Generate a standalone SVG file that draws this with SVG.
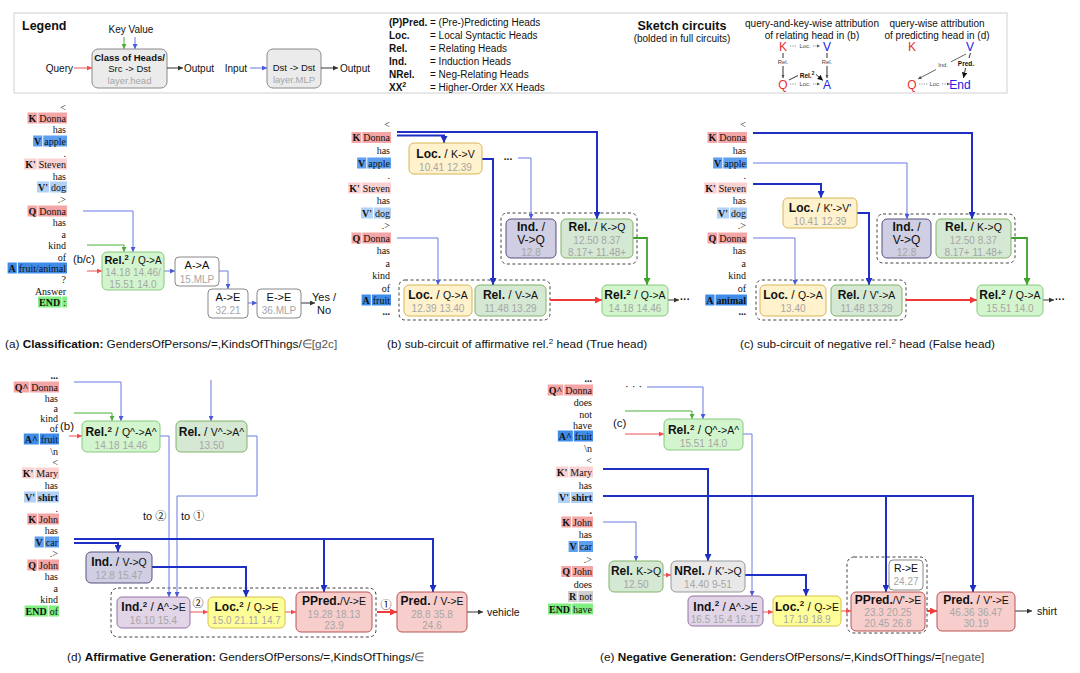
<svg xmlns="http://www.w3.org/2000/svg" width="1080" height="673" viewBox="0 0 1080 673">
<style>
text{font-family:"Liberation Sans",Arial,sans-serif;fill:#111}
.tk{font-family:"Liberation Serif","Times New Roman",serif;font-size:10px;text-anchor:end}
.tkb{font-weight:bold}
.t{font-size:12px;text-anchor:middle}
.ta{font-size:11px;text-anchor:middle}
.b{font-weight:bold}
.s{font-size:10.5px}
.n{font-size:10px;text-anchor:middle;fill:#a6a6a6}
.gy{fill:#a6a6a6}
.cap{font-size:11.8px}
.lg{font-size:10px}
.sk{font-size:12px;text-anchor:middle}
.sl{font-size:5.8px;text-anchor:middle;fill:#444}
.cj{font-family:"Liberation Sans","Noto Sans CJK JP",sans-serif}
.rel2{fill:#d3f5cd;stroke:#86c97e}
.rel{fill:#d5e8d4;stroke:#82b366}
.loc{fill:#fff2cc;stroke:#d6b656}
.loc2{fill:#ffff99;stroke:#d6c24a}
.ind{fill:#d0cee2;stroke:#56517e}
.ind2{fill:#e1d5e7;stroke:#9673a6}
.pred{fill:#f8cecc;stroke:#b85450}
.nrel{fill:#e8e8e8;stroke:#999}
.mlp{fill:#fff;stroke:#888}
.grp{fill:none;stroke:#444;stroke-dasharray:3 2.5}
#connectors path{fill:none}
.bk{stroke:#1f2fc4;stroke-width:2}
.bt{stroke:#6a78e2;stroke-width:1}
.gr{stroke:#3fa02e;stroke-width:1.8}
.grt{stroke:#4caf3a;stroke-width:1}
.rd{stroke:#f03a3a;stroke-width:2}
.rdt{stroke:#f05050;stroke-width:1}
.bl{stroke:#333;stroke-width:1}
.dt{stroke:#777;stroke-width:0.8;stroke-dasharray:1.2 1.2}
.kb{fill:#f4a6a6}.k2b{fill:#fbd2d2}.vb{fill:#5e9ff0}.v2b{fill:#b2d1f7}.ab{fill:#3f8ce8}.eb{fill:#80ee80}.rb{fill:#cfcfcf}
</style>
<defs>
<marker id="mbk" viewBox="0 0 10 10" refX="10" refY="5" markerWidth="7" markerHeight="7" markerUnits="userSpaceOnUse" orient="auto"><path d="M0,0 L10,5 L0,10 z" fill="#1f2fc4"/></marker>
<marker id="mbt" viewBox="0 0 10 10" refX="10" refY="5" markerWidth="5" markerHeight="5" markerUnits="userSpaceOnUse" orient="auto"><path d="M0,0 L10,5 L0,10 z" fill="#4a5ad8"/></marker>
<marker id="mgr" viewBox="0 0 10 10" refX="10" refY="5" markerWidth="7" markerHeight="7" markerUnits="userSpaceOnUse" orient="auto"><path d="M0,0 L10,5 L0,10 z" fill="#3fa02e"/></marker>
<marker id="mgrt" viewBox="0 0 10 10" refX="10" refY="5" markerWidth="5" markerHeight="5" markerUnits="userSpaceOnUse" orient="auto"><path d="M0,0 L10,5 L0,10 z" fill="#4caf3a"/></marker>
<marker id="mrd" viewBox="0 0 10 10" refX="10" refY="5" markerWidth="7" markerHeight="7" markerUnits="userSpaceOnUse" orient="auto"><path d="M0,0 L10,5 L0,10 z" fill="#f03a3a"/></marker>
<marker id="mrdt" viewBox="0 0 10 10" refX="10" refY="5" markerWidth="5" markerHeight="5" markerUnits="userSpaceOnUse" orient="auto"><path d="M0,0 L10,5 L0,10 z" fill="#f05050"/></marker>
<marker id="mbl" viewBox="0 0 10 10" refX="10" refY="5" markerWidth="5" markerHeight="5" markerUnits="userSpaceOnUse" orient="auto"><path d="M0,0 L10,5 L0,10 z" fill="#333"/></marker>
<marker id="mgy" viewBox="0 0 10 10" refX="10" refY="5" markerWidth="3.5" markerHeight="3.5" markerUnits="userSpaceOnUse" orient="auto"><path d="M0,0 L10,5 L0,10 z" fill="#555"/></marker>
<marker id="mbb" viewBox="0 0 10 10" refX="10" refY="5" markerWidth="5.5" markerHeight="5.5" markerUnits="userSpaceOnUse" orient="auto"><path d="M0,0 L10,5 L0,10 z" fill="#111"/></marker>
</defs>
<rect width="1080" height="673" fill="#fff"/>

<!-- LEGEND -->
<g id="legend">
<rect x="14" y="13" width="993" height="80" fill="#fff" stroke="#d0d0d0"/>
<text x="22" y="29.5" font-size="12.5" font-weight="bold">Legend</text>
<text x="131" y="32.5" class="lg" text-anchor="middle">Key Value</text>
<text x="73" y="71.5" class="lg" text-anchor="end">Query</text>
<g id="lg-class"><rect x="92" y="49" width="75" height="39" rx="6" fill="#ebebeb" stroke="#8a8a8a"/>
<text x="129.5" y="60.5" font-size="9.5" font-weight="bold" text-anchor="middle">Class of Heads/</text>
<text x="129.5" y="72" font-size="9.5" text-anchor="middle">Src -&gt; Dst</text>
<text x="129.5" y="83.5" font-size="9.5" text-anchor="middle" class="gy">layer.head</text></g>
<text x="184" y="71.5" class="lg">Output</text>
<text x="247" y="71.5" class="lg" text-anchor="end">Input</text>
<g id="lg-mlp"><rect x="267" y="49" width="54" height="39" rx="6" fill="#ebebeb" stroke="#8a8a8a"/>
<text x="294" y="71" font-size="9.5" text-anchor="middle">Dst -&gt; Dst</text>
<text x="294" y="82.5" font-size="9.5" text-anchor="middle" class="gy">layer.MLP</text></g>
<text x="340" y="71.5" class="lg">Output</text>
<g class="lg">
<text x="389" y="25.5"><tspan font-weight="bold">(P)Pred.</tspan></text><text x="430" y="25.5">= (Pre-)Predicting Heads</text>
<text x="389" y="38.5" font-weight="bold">Loc.</text><text x="430" y="38.5">= Local Syntactic Heads</text>
<text x="389" y="51.5" font-weight="bold">Rel.</text><text x="430" y="51.5">= Relating Heads</text>
<text x="389" y="64.5" font-weight="bold">Ind.</text><text x="430" y="64.5">= Induction Heads</text>
<text x="389" y="77.5" font-weight="bold">NRel.</text><text x="430" y="77.5">= Neg-Relating Heads</text>
<text x="389" y="90.5" font-weight="bold">XX<tspan font-size="7" dy="-4">2</tspan></text><text x="430" y="90.5">= Higher-Order XX Heads</text>
</g>
<text x="682" y="29.5" font-size="12.5" font-weight="bold" text-anchor="middle">Sketch circuits</text>
<text x="682" y="41.5" class="lg" text-anchor="middle">(bolded in full circuits)</text>
<text x="812" y="27" class="lg" text-anchor="middle">query-and-key-wise attribution</text>
<text x="812" y="38.5" class="lg" text-anchor="middle">of relating head in (b)</text>
<text x="937" y="27" class="lg" text-anchor="middle">query-wise attribution</text>
<text x="937" y="38.5" class="lg" text-anchor="middle">of predicting head in (d)</text>
<g id="sketch1">
<text x="783" y="50.5" class="sk" style="fill:#e83030">K</text>
<text x="827" y="50.5" class="sk" style="fill:#2020e8">V</text>
<text x="783" y="88.5" class="sk" style="fill:#e83030">Q</text>
<text x="827" y="88.5" class="sk" style="fill:#2020e8">A</text>
<text x="805" y="48" class="sl">Loc.</text>
<text x="805" y="86" class="sl">Loc.</text>
<text x="783" y="64" class="sl">Rel.</text>
<text x="827" y="64" class="sl">Rel.</text>
<text x="807" y="77.5" font-size="6.5" font-weight="bold" text-anchor="middle">Rel.<tspan font-size="4.8" dy="-2.5">2</tspan></text>
</g>
<g id="sketch2">
<text x="912" y="50.5" class="sk" style="fill:#e83030">K</text>
<text x="970" y="50.5" class="sk" style="fill:#2020e8">V</text>
<text x="912" y="88.5" class="sk" style="fill:#e83030">Q</text>
<text x="960" y="88.5" class="sk" style="fill:#2020e8">End</text>
<text x="943" y="66.5" class="sl">Ind.</text>
<text x="966" y="65.5" font-size="6.5" font-weight="bold" text-anchor="middle">Pred.</text>
<text x="935" y="86" class="sl">Loc.</text>
</g>
</g>

<!-- TOKENS -->
<g id="tokens-a">
<text class="tk" x="66" y="110.5">&lt;</text>
<rect class="kb" x="27.5" y="112.5" width="9.8" height="11"/><text class="tk tkb" x="36.3" y="121.5">K</text>
<rect class="kb" x="38.3" y="112.5" width="28.7" height="11"/><text class="tk" x="66" y="121.5">Donna</text>
<text class="tk" x="66" y="132.5">has</text>
<rect class="vb" x="33.1" y="135.5" width="9.2" height="11"/><text class="tk tkb" x="41.3" y="144.5">V</text>
<rect class="vb" x="43.3" y="135.5" width="23.7" height="11"/><text class="tk" x="66" y="144.5">apple</text>
<text class="tk" x="66" y="156.5">.</text>
<rect class="k2b" x="24.2" y="158.5" width="12.6" height="11"/><text class="tk tkb" x="35.8" y="167.5">K'</text>
<rect class="k2b" x="37.8" y="158.5" width="29.2" height="11"/><text class="tk" x="66" y="167.5">Steven</text>
<text class="tk" x="66" y="179.5">has</text>
<rect class="v2b" x="37" y="181.5" width="12" height="11"/><text class="tk tkb" x="48" y="190.5">V'</text>
<rect class="v2b" x="50" y="181.5" width="17" height="11"/><text class="tk" x="66" y="190.5">dog</text>
<text class="tk" x="66" y="202.5">.&gt;</text>
<rect class="kb" x="27.5" y="205.5" width="9.8" height="11"/><text class="tk tkb" x="36.3" y="214.5">Q</text>
<rect class="kb" x="38.3" y="205.5" width="28.7" height="11"/><text class="tk" x="66" y="214.5">Donna</text>
<text class="tk" x="66" y="225.5">has</text>
<text class="tk" x="66" y="237.5">a</text>
<text class="tk" x="66" y="248.5">kind</text>
<text class="tk" x="66" y="260.5">of</text>
<rect class="ab" x="7.6" y="262.5" width="9.2" height="11"/><text class="tk tkb" x="15.8" y="271.5">A</text>
<rect class="ab" x="17.8" y="262.5" width="49.2" height="11"/><text class="tk" x="66" y="271.5">fruit/animal</text>
<text class="tk" x="66" y="282.5">?</text>
<text class="tk" x="66" y="294.5">Answer</text>
<rect class="eb" x="38.1" y="296.5" width="23.1" height="11"/><text class="tk tkb" x="60.2" y="305.5">END</text>
<rect class="eb" x="62.2" y="296.5" width="4.8" height="11"/><text class="tk" x="66" y="305.5">:</text>
</g>

<g id="tokens-b">
<text class="tk" x="390" y="127.5">&lt;</text>
<rect class="kb" x="351.5" y="132" width="9.8" height="11"/><text class="tk tkb" x="360.3" y="141">K</text>
<rect class="kb" x="362.3" y="132" width="28.7" height="11"/><text class="tk" x="390" y="141">Donna</text>
<text class="tk" x="390" y="153.5">has</text>
<rect class="vb" x="357.1" y="157.5" width="9.2" height="11"/><text class="tk tkb" x="365.3" y="166.5">V</text>
<rect class="vb" x="367.3" y="157.5" width="23.7" height="11"/><text class="tk" x="390" y="166.5">apple</text>
<text class="tk" x="390" y="178.5">.</text>
<rect class="k2b" x="348.2" y="182.5" width="12.6" height="11"/><text class="tk tkb" x="359.8" y="191.5">K'</text>
<rect class="k2b" x="361.8" y="182.5" width="29.2" height="11"/><text class="tk" x="390" y="191.5">Steven</text>
<text class="tk" x="390" y="203.5">has</text>
<rect class="v2b" x="361" y="207.5" width="12" height="11"/><text class="tk tkb" x="372" y="216.5">V'</text>
<rect class="v2b" x="374" y="207.5" width="17" height="11"/><text class="tk" x="390" y="216.5">dog</text>
<text class="tk" x="390" y="228.5">.&gt;</text>
<rect class="kb" x="351.5" y="232.5" width="9.8" height="11"/><text class="tk tkb" x="360.3" y="241.5">Q</text>
<rect class="kb" x="362.3" y="232.5" width="28.7" height="11"/><text class="tk" x="390" y="241.5">Donna</text>
<text class="tk" x="390" y="253.5">has</text>
<text class="tk" x="390" y="266.5">a</text>
<text class="tk" x="390" y="278.5">kind</text>
<text class="tk" x="390" y="291.5">of</text>
<rect class="ab" x="361.6" y="294.5" width="9.2" height="11"/><text class="tk tkb" x="369.8" y="303.5">A</text>
<rect class="ab" x="371.8" y="294.5" width="19.2" height="11"/><text class="tk" x="390" y="303.5">fruit</text>
<text class="tk tkb" x="390" y="315">...</text>
</g>

<g id="tokens-c">
<text class="tk" x="746" y="127.5">&lt;</text>
<rect class="kb" x="707.5" y="132" width="9.8" height="11"/><text class="tk tkb" x="716.3" y="141">K</text>
<rect class="kb" x="718.3" y="132" width="28.7" height="11"/><text class="tk" x="746" y="141">Donna</text>
<text class="tk" x="746" y="153.5">has</text>
<rect class="vb" x="713.1" y="157.5" width="9.2" height="11"/><text class="tk tkb" x="721.3" y="166.5">V</text>
<rect class="vb" x="723.3" y="157.5" width="23.7" height="11"/><text class="tk" x="746" y="166.5">apple</text>
<text class="tk" x="746" y="178.5">.</text>
<rect class="k2b" x="704.2" y="182.5" width="12.6" height="11"/><text class="tk tkb" x="715.8" y="191.5">K'</text>
<rect class="k2b" x="717.8" y="182.5" width="29.2" height="11"/><text class="tk" x="746" y="191.5">Steven</text>
<text class="tk" x="746" y="203.5">has</text>
<rect class="v2b" x="717" y="207.5" width="12" height="11"/><text class="tk tkb" x="728" y="216.5">V'</text>
<rect class="v2b" x="730" y="207.5" width="17" height="11"/><text class="tk" x="746" y="216.5">dog</text>
<text class="tk" x="746" y="228.5">.&gt;</text>
<rect class="kb" x="707.5" y="232.5" width="9.8" height="11"/><text class="tk tkb" x="716.3" y="241.5">Q</text>
<rect class="kb" x="718.3" y="232.5" width="28.7" height="11"/><text class="tk" x="746" y="241.5">Donna</text>
<text class="tk" x="746" y="253.5">has</text>
<text class="tk" x="746" y="266.5">a</text>
<text class="tk" x="746" y="278.5">kind</text>
<text class="tk" x="746" y="291.5">of</text>
<rect class="ab" x="705.3" y="294.5" width="9.2" height="11"/><text class="tk tkb" x="713.5" y="303.5">A</text>
<rect class="ab" x="715.5" y="294.5" width="31.5" height="11"/><text class="tk tkb" x="746" y="303.5">animal</text>
<text class="tk tkb" x="746" y="315">...</text>
</g>

<g id="tokens-d">
<text class="tk tkb" x="58" y="379">...</text>
<rect class="kb" x="13.7" y="381.5" width="15.6" height="11"/><text class="tk tkb" x="28.3" y="390.5">Q^</text>
<rect class="kb" x="30.3" y="381.5" width="28.7" height="11"/><text class="tk" x="58" y="390.5">Donna</text>
<text class="tk" x="58" y="401.5">has</text>
<text class="tk" x="58" y="411.5">a</text>
<text class="tk" x="58" y="421.5">kind</text>
<text class="tk" x="58" y="431.5">of</text>
<rect class="ab" x="23.8" y="433.5" width="15" height="11"/><text class="tk tkb" x="37.8" y="442.5">A^</text>
<rect class="ab" x="39.8" y="433.5" width="19.2" height="11"/><text class="tk" x="58" y="442.5">fruit</text>
<text class="tk" x="58" y="454.5">\n</text>
<text class="tk" x="58" y="465.5">&lt;</text>
<rect class="k2b" x="21.7" y="467.5" width="12.6" height="11"/><text class="tk tkb" x="33.3" y="476.5">K'</text>
<rect class="k2b" x="35.3" y="467.5" width="23.7" height="11"/><text class="tk" x="58" y="476.5">Mary</text>
<text class="tk" x="58" y="488.5">has</text>
<rect class="v2b" x="24" y="491.5" width="12" height="11"/><text class="tk tkb" x="35" y="500.5">V'</text>
<rect class="v2b" x="37" y="491.5" width="22" height="11"/><text class="tk tkb" x="58" y="500.5">shirt</text>
<text class="tk" x="58" y="511.5">.</text>
<rect class="kb" x="27.3" y="513.5" width="9.8" height="11"/><text class="tk tkb" x="36.1" y="522.5">K</text>
<rect class="kb" x="38.1" y="513.5" width="20.9" height="11"/><text class="tk" x="58" y="522.5">John</text>
<text class="tk" x="58" y="533.5">has</text>
<rect class="vb" x="34.6" y="536.5" width="9.2" height="11"/><text class="tk tkb" x="42.8" y="545.5">V</text>
<rect class="vb" x="44.8" y="536.5" width="14.2" height="11"/><text class="tk" x="58" y="545.5">car</text>
<text class="tk" x="58" y="556.5">.&gt;</text>
<rect class="kb" x="27.3" y="559.5" width="9.8" height="11"/><text class="tk tkb" x="36.1" y="568.5">Q</text>
<rect class="kb" x="38.1" y="559.5" width="20.9" height="11"/><text class="tk" x="58" y="568.5">John</text>
<text class="tk" x="58" y="579.5">has</text>
<text class="tk" x="58" y="591.5">a</text>
<text class="tk" x="58" y="602.5">kind</text>
<rect class="eb" x="24.6" y="605.5" width="23.1" height="11"/><text class="tk tkb" x="46.7" y="614.5">END</text>
<rect class="eb" x="48.7" y="605.5" width="10.3" height="11"/><text class="tk" x="58" y="614.5">of</text>
</g>

<g id="tokens-e">
<text class="tk tkb" x="592" y="382">...</text>
<rect class="kb" x="547.7" y="384.5" width="15.6" height="11"/><text class="tk tkb" x="562.3" y="393.5">Q^</text>
<rect class="kb" x="564.3" y="384.5" width="28.7" height="11"/><text class="tk" x="592" y="393.5">Donna</text>
<text class="tk" x="592" y="405.5">does</text>
<text class="tk" x="592" y="417.5">not</text>
<text class="tk" x="592" y="428.5">have</text>
<rect class="ab" x="557.8" y="430.5" width="15" height="11"/><text class="tk tkb" x="571.8" y="439.5">A^</text>
<rect class="ab" x="573.8" y="430.5" width="19.2" height="11"/><text class="tk" x="592" y="439.5">fruit</text>
<text class="tk" x="592" y="451.5">\n</text>
<text class="tk" x="592" y="463.5">&lt;</text>
<rect class="k2b" x="555.7" y="466.5" width="12.6" height="11"/><text class="tk tkb" x="567.3" y="475.5">K'</text>
<rect class="k2b" x="569.3" y="466.5" width="23.7" height="11"/><text class="tk" x="592" y="475.5">Mary</text>
<text class="tk" x="592" y="488.5">has</text>
<rect class="v2b" x="558" y="492" width="12" height="11"/><text class="tk tkb" x="569" y="501">V'</text>
<rect class="v2b" x="571" y="492" width="22" height="11"/><text class="tk tkb" x="592" y="501">shirt</text>
<text class="tk tkb" x="592" y="513.5">.</text>
<rect class="kb" x="561.3" y="516.5" width="9.8" height="11"/><text class="tk tkb" x="570.1" y="525.5">K</text>
<rect class="kb" x="572.1" y="516.5" width="20.9" height="11"/><text class="tk" x="592" y="525.5">John</text>
<text class="tk" x="592" y="537.5">has</text>
<rect class="vb" x="568.6" y="541" width="9.2" height="11"/><text class="tk tkb" x="576.8" y="550">V</text>
<rect class="vb" x="578.8" y="541" width="14.2" height="11"/><text class="tk" x="592" y="550">car</text>
<text class="tk" x="592" y="562.5">.&gt;</text>
<rect class="kb" x="561.3" y="566" width="9.8" height="11"/><text class="tk tkb" x="570.1" y="575">Q</text>
<rect class="kb" x="572.1" y="566" width="20.9" height="11"/><text class="tk" x="592" y="575">John</text>
<text class="tk" x="592" y="587.5">does</text>
<rect class="rb" x="568" y="591" width="9.2" height="11"/><text class="tk tkb" x="576.2" y="600">R</text>
<rect class="rb" x="578.2" y="591" width="14.8" height="11"/><text class="tk" x="592" y="600">not</text>
<rect class="eb" x="548" y="603.5" width="23.1" height="11"/><text class="tk tkb" x="570.1" y="612.5">END</text>
<rect class="eb" x="572.1" y="603.5" width="20.9" height="11"/><text class="tk" x="592" y="612.5">have</text>
</g>

<!-- GROUP FRAMES -->
<g id="groups">
<rect class="grp" x="501" y="213" width="136" height="51" rx="6"/>
<rect class="grp" x="399" y="280" width="151" height="40" rx="6"/>
<rect class="grp" x="877" y="214" width="138" height="49" rx="6"/>
<rect class="grp" x="756" y="280" width="150" height="40" rx="6"/>
<rect class="grp" x="111" y="588" width="265" height="49" rx="7"/>
<rect class="grp" x="847" y="557" width="80" height="76" rx="7"/>
</g>

<!-- CONNECTORS -->
<g id="connectors">
<path class="dt" d="M790,46 H797"/><path class="dt" d="M813,46 H820" marker-end="url(#mgy)"/>
<path class="dt" d="M790,84 H797"/><path class="dt" d="M813,84 H820" marker-end="url(#mgy)"/>
<path class="bl" d="M783,53 V58" stroke-width="0.7"/><path class="bl" d="M783,66 V78" stroke-width="0.7" marker-end="url(#mgy)"/>
<path class="bl" d="M827,53 V58" stroke-width="0.7"/><path class="bl" d="M827,66 V78" stroke-width="0.7" marker-end="url(#mgy)"/>
<path class="bl" d="M789,80 L798,75.5" stroke-width="1.3"/><path class="bl" d="M816,74.5 L823,80.5" stroke-width="1.3" marker-end="url(#mbb)"/>
<path class="bl" d="M966,54 L951,61.8" stroke-width="0.6" style="stroke:#666"/><path class="bl" d="M936,69.6 L918,79" stroke-width="0.6" style="stroke:#666" marker-end="url(#mgy)"/>
<path class="bl" d="M970.5,53 L969,58" stroke-width="1.3"/><path class="bl" d="M965.5,68 L963.5,78" stroke-width="1.3" marker-end="url(#mbb)"/>
<path class="dt" d="M919,84 H928"/><path class="dt" d="M942,84 H950" marker-end="url(#mgy)"/>
<path class="rdt" d="M74,68 H92" marker-end="url(#mrdt)"/>
<path class="grt" d="M124,37 V49" marker-end="url(#mgrt)"/>
<path class="bt" d="M135,37 V49" marker-end="url(#mbt)"/>
<path class="bl" d="M167,68 H183" marker-end="url(#mbl)"/>
<path class="bt" d="M250,68 H267" marker-end="url(#mbt)"/>
<path class="bl" d="M321,68 H338" marker-end="url(#mbl)"/>

<path class="bt" d="M83,211 H133 V252" marker-end="url(#mbt)"/>
<path class="grt" d="M87,245 H124 V252" marker-end="url(#mgrt)"/>
<path class="rdt" d="M87,271 H102" marker-end="url(#mrdt)"/>
<path class="bt" d="M164,271 H175" marker-end="url(#mbt)"/>
<path class="bt" d="M219,271 H228 V289" marker-end="url(#mbt)"/>
<path class="bt" d="M248,303 H257" marker-end="url(#mbt)"/>
<path class="bl" d="M301,303 H315" marker-end="url(#mbl)"/>

<path class="bk" d="M397,132 H597 V219" marker-end="url(#mbk)"/>
<path class="bk" d="M397,135.5 H444 V143" marker-end="url(#mbk)"/>
<path class="bk" d="M482,159 H493 V285" marker-end="url(#mbk)"/>
<path class="bt" d="M518,158 H531 V219" marker-end="url(#mbt)"/>
<path class="bt" d="M397,238 H438 V285" marker-end="url(#mbt)"/>
<path class="gr" d="M633,238 H647 V285" marker-end="url(#mgr)"/>
<path class="rd" d="M550,300 H602" marker-end="url(#mrd)"/>
<path class="bl" d="M668,300 H679" marker-end="url(#mbl)"/>

<path class="bk" d="M753,133 H972 V219" marker-end="url(#mbk)"/>
<path class="bt" d="M753,163 H907 V219" marker-end="url(#mbt)"/>
<path class="bk" d="M753,184 H821 V198" marker-end="url(#mbk)"/>
<path class="bk" d="M857,213 H869 V285" marker-end="url(#mbk)"/>
<path class="bt" d="M753,238 H795 V285" marker-end="url(#mbt)"/>
<path class="gr" d="M1011,238 H1027 V285" marker-end="url(#mgr)"/>
<path class="rd" d="M906,300 H977" marker-end="url(#mrd)"/>
<path class="bl" d="M1043,300 H1054" marker-end="url(#mbl)"/>

<path class="bt" d="M74,382 H121 V421" marker-end="url(#mbt)"/>
<path class="grt" d="M74,413 H112 V421" marker-end="url(#mgrt)"/>
<path class="rdt" d="M69,436 H82" marker-end="url(#mrdt)"/>
<path class="bt" d="M211,380 V421" marker-end="url(#mbt)"/>
<path class="bt" d="M160,436 H169 V597" marker-end="url(#mbt)"/>
<path class="bt" d="M247,436 H257 V496 H177 V597" marker-end="url(#mbt)"/>
<path class="bk" d="M74,539 H433 V592" marker-end="url(#mbk)"/>
<path class="bk" d="M324,539 V592" marker-end="url(#mbk)"/>
<path class="bk" d="M74,543 H118 V552" marker-end="url(#mbk)"/>
<path class="bk" d="M152,567 H246 V597" marker-end="url(#mbk)"/>
<path class="rdt" d="M190,612 H208" marker-end="url(#mrdt)"/>
<path class="rdt" d="M285,612 H296" marker-end="url(#mrdt)"/>
<path class="rd" d="M377,612 H397" marker-end="url(#mrd)"/>
<path class="bl" d="M467,612 H483" marker-end="url(#mbl)"/>

<path class="bt" d="M647,387 H703 V419" marker-end="url(#mbt)"/>
<path class="grt" d="M625,411 H692 V419" marker-end="url(#mgrt)"/>
<path class="rdt" d="M625,434 H664" marker-end="url(#mrdt)"/>
<path class="bt" d="M743,434 H752 V596" marker-end="url(#mbt)"/>
<path class="bk" d="M603,469 H708 V561" marker-end="url(#mbk)"/>
<path class="bk" d="M603,496 H973 V592" marker-end="url(#mbk)"/>
<path class="bk" d="M886,496 V592" marker-end="url(#mbk)"/>
<path class="bt" d="M603,522 H636 V561" marker-end="url(#mbt)"/>
<path class="rdt" d="M663,575 H671" marker-end="url(#mrdt)"/>
<path class="bk" d="M745,575 H806 V596" marker-end="url(#mbk)"/>
<path class="rdt" d="M763,612 H773" marker-end="url(#mrdt)"/>
<path class="rdt" d="M841,611 H851" marker-end="url(#mrdt)"/>
<path class="rd" d="M927,611 H937" marker-end="url(#mrd)"/>
<path class="bl" d="M1015,611 H1032" marker-end="url(#mbl)"/>
</g>

<!-- PANEL A NODES -->
<g id="a-rel2"><rect class="rel2" x="102" y="252" width="62" height="38" rx="5"/>
<text class="ta" x="133" y="264"><tspan class="b">Rel.</tspan><tspan class="b" font-size="7.5" dy="-4">2</tspan><tspan dy="4"> / </tspan><tspan font-size="10">Q-&gt;A</tspan></text>
<text class="n" x="133" y="276" font-size="10.5">14.18 14.46/</text><text class="n" x="133" y="287.5" font-size="10.5">15.51 14.0</text></g>
<g id="a-aa"><rect class="mlp" x="175" y="257" width="44" height="29" rx="4"/><text class="ta" x="197" y="269">A-&gt;A</text><text class="n" x="197" y="282.5" font-size="10.5">15.MLP</text></g>
<g id="a-ae"><rect class="mlp" x="208" y="289" width="40" height="29" rx="4"/><text class="ta" x="228" y="301">A-&gt;E</text><text class="n" x="228" y="314" font-size="10.5">32.21</text></g>
<g id="a-ee"><rect class="mlp" x="257" y="289" width="44" height="29" rx="4"/><text class="ta" x="279" y="301">E-&gt;E</text><text class="n" x="279" y="314" font-size="10.5">36.MLP</text></g>
<text class="ta" x="324" y="301">Yes /</text><text class="ta" x="324" y="314">No</text>
<text x="73" y="263" font-size="11">(b/c)</text>

<!-- PANEL B NODES -->
<g id="b-loc-kv"><rect class="loc" x="409" y="143" width="73" height="31" rx="5"/><text class="t" x="445.5" y="158"><tspan class="b">Loc.</tspan> / <tspan class="s">K-&gt;V</tspan></text><text class="n" x="445.5" y="170.5">10.41 12.39</text></g>
<text x="508" y="159.5" font-size="10" text-anchor="middle" font-weight="bold">...</text>
<g id="b-ind"><rect class="ind" x="506" y="219" width="50" height="39" rx="5"/><text class="t" x="531" y="231"><tspan class="b">Ind.</tspan> /</text><text class="t" x="531" y="244" font-size="11.5">V-&gt;Q</text><text class="n" x="531" y="255.5">12.8</text></g>
<g id="b-rel-kq"><rect class="rel" x="561" y="219" width="72" height="39" rx="5"/><text class="t" x="597" y="231"><tspan class="b">Rel.</tspan> / <tspan class="s">K-&gt;Q</tspan></text><text class="n" x="597" y="244">12.50 8.37</text><text class="n" x="597" y="255.5" font-size="9.2">8.17+ 11.48+</text></g>
<g id="b-loc-qa"><rect class="loc" x="404" y="285" width="68" height="31" rx="5"/><text class="t" x="438" y="299"><tspan class="b">Loc.</tspan> / <tspan class="s">Q-&gt;A</tspan></text><text class="n" x="438" y="311.5">12.39 13.40</text></g>
<g id="b-rel-va"><rect class="rel" x="475" y="285" width="71" height="31" rx="5"/><text class="t" x="510.5" y="299"><tspan class="b">Rel.</tspan> / <tspan class="s">V-&gt;A</tspan></text><text class="n" x="510.5" y="311.5">11.48 13.29</text></g>
<g id="b-rel2"><rect class="rel2" x="602" y="285" width="66" height="31" rx="5"/><text class="t" x="635" y="299"><tspan class="b">Rel.</tspan><tspan class="b" font-size="8" dy="-4.5">2</tspan><tspan dy="4.5"> / </tspan><tspan class="s">Q-&gt;A</tspan></text><text class="n" x="635" y="311.5">14.18 14.46</text></g>
<text x="680" y="303" font-size="10" font-weight="bold">···</text>

<!-- PANEL C NODES -->
<g id="c-loc-kv"><rect class="loc" x="783" y="198" width="74" height="30" rx="5"/><text class="t" x="820" y="212"><tspan class="b">Loc.</tspan> / <tspan class="s">K'-&gt;V'</tspan></text><text class="n" x="820" y="224.5">10.41 12.39</text></g>
<g id="c-ind"><rect class="ind" x="882" y="219" width="49" height="39" rx="5"/><text class="t" x="906.5" y="231"><tspan class="b">Ind.</tspan> /</text><text class="t" x="906.5" y="244" font-size="11.5">V-&gt;Q</text><text class="n" x="906.5" y="255.5">12.8</text></g>
<g id="c-rel-kq"><rect class="rel" x="936" y="219" width="75" height="39" rx="5"/><text class="t" x="973.5" y="231"><tspan class="b">Rel.</tspan> / <tspan class="s">K-&gt;Q</tspan></text><text class="n" x="973.5" y="244">12.50 8.37</text><text class="n" x="973.5" y="255.5" font-size="9.2">8.17+ 11.48+</text></g>
<g id="c-loc-qa"><rect class="loc" x="760" y="285" width="66" height="31" rx="5"/><text class="t" x="793" y="299"><tspan class="b">Loc.</tspan> / <tspan class="s">Q-&gt;A</tspan></text><text class="n" x="793" y="311.5">13.40</text></g>
<g id="c-rel-va"><rect class="rel" x="831" y="285" width="71" height="31" rx="5"/><text class="t" x="866.5" y="299"><tspan class="b">Rel.</tspan> / <tspan class="s">V'-&gt;A</tspan></text><text class="n" x="866.5" y="311.5">11.48 13.29</text></g>
<g id="c-rel2"><rect class="rel2" x="977" y="285" width="66" height="31" rx="5"/><text class="t" x="1010" y="299"><tspan class="b">Rel.</tspan><tspan class="b" font-size="8" dy="-4.5">2</tspan><tspan dy="4.5"> / </tspan><tspan class="s">Q-&gt;A</tspan></text><text class="n" x="1010" y="311.5">15.51 14.0</text></g>
<text x="1055" y="303" font-size="10" font-weight="bold">···</text>

<!-- PANEL D NODES -->
<text x="60" y="430" font-size="11.5">(b)</text>
<g id="d-rel2"><rect class="rel2" x="82" y="421" width="78" height="31" rx="5"/><text class="t" x="121" y="436"><tspan class="b">Rel.</tspan><tspan class="b" font-size="8" dy="-4.5">2</tspan><tspan dy="4.5"> / </tspan><tspan class="s">Q^-&gt;A^</tspan></text><text class="n" x="121" y="448.5">14.18  14.46</text></g>
<g id="d-rel-va"><rect class="rel" x="176" y="421" width="71" height="31" rx="5"/><text class="t" x="211.5" y="436"><tspan class="b">Rel.</tspan> / <tspan class="s">V^-&gt;A^</tspan></text><text class="n" x="211.5" y="448.5">13.50</text></g>
<text class="cj" x="143" y="520" font-size="11">to ②</text>
<text class="cj" x="181" y="520" font-size="11">to ①</text>
<g id="d-ind"><rect class="ind" x="86" y="552" width="66" height="31" rx="5"/><text class="t" x="119" y="566"><tspan class="b">Ind.</tspan> / <tspan class="s">V-&gt;Q</tspan></text><text class="n" x="119" y="578.5">12.8 15.47</text></g>
<g id="d-ind2"><rect class="ind2" x="117" y="597" width="73" height="31" rx="5"/><text class="t" x="153.5" y="611"><tspan class="b">Ind.</tspan><tspan class="b" font-size="8" dy="-4.5">2</tspan><tspan dy="4.5"> / </tspan><tspan class="s">A^-&gt;E</tspan></text><text class="n" x="153.5" y="624">16.10 15.4</text></g>
<text class="cj" x="198" y="607" font-size="11" text-anchor="middle">②</text>
<g id="d-loc2"><rect class="loc2" x="208" y="597" width="77" height="31" rx="5"/><text class="t" x="246.5" y="611"><tspan class="b">Loc.</tspan><tspan class="b" font-size="8" dy="-4.5">2</tspan><tspan dy="4.5"> / </tspan><tspan class="s">Q-&gt;E</tspan></text><text class="n" x="246.5" y="624" font-size="9.7">15.0 21.11 14.7</text></g>
<g id="d-ppred"><rect class="pred" x="296" y="592" width="76" height="40" rx="5"/><text class="t" x="334" y="605"><tspan class="b">PPred.</tspan><tspan class="s">/V-&gt;E</tspan></text><text class="n" x="334" y="617.5">19.28 18.13</text><text class="n" x="334" y="628.5">23.9</text></g>
<text class="cj" x="386" y="609" font-size="11" text-anchor="middle">①</text>
<g id="d-pred"><rect class="pred" x="397" y="592" width="70" height="40" rx="5"/><text class="t" x="432" y="605"><tspan class="b">Pred.</tspan> / <tspan class="s">V-&gt;E</tspan></text><text class="n" x="432" y="617.5">28.8 35.8</text><text class="n" x="432" y="628.5">24.6</text></g>
<text x="487" y="615.5" font-size="10.5">vehicle</text>

<!-- PANEL E NODES -->
<text x="625" y="390" font-size="11">· · ·</text>
<text x="613" y="427" font-size="11.5">(c)</text>
<g id="e-rel2"><rect class="rel2" x="664" y="419" width="79" height="31" rx="5"/><text class="t" x="703.5" y="434"><tspan class="b">Rel.</tspan><tspan class="b" font-size="8" dy="-4.5">2</tspan><tspan dy="4.5"> / </tspan><tspan class="s">Q^-&gt;A^</tspan></text><text class="n" x="703.5" y="446.5">15.51 14.0</text></g>
<g id="e-rel-kq"><rect class="rel" x="609" y="561" width="54" height="31" rx="5"/><text class="t" x="636" y="575"><tspan class="b">Rel.</tspan> <tspan class="s">K-&gt;Q</tspan></text><text class="n" x="636" y="587.5">12.50</text></g>
<g id="e-nrel"><rect class="nrel" x="671" y="561" width="74" height="31" rx="5"/><text class="t" x="708" y="575"><tspan class="b">NRel.</tspan> / <tspan class="s">K'-&gt;Q</tspan></text><text class="n" x="708" y="587.5">14.40 9-51</text></g>
<g id="e-ind2"><rect class="ind2" x="688" y="596" width="75" height="30" rx="5"/><text class="t" x="725.5" y="610.5"><tspan class="b">Ind.</tspan><tspan class="b" font-size="8" dy="-4.5">2</tspan><tspan dy="4.5"> / </tspan><tspan class="s">A^-&gt;E</tspan></text><text class="n" x="725.5" y="623" font-size="9.7">16.5 15.4 16.17</text></g>
<g id="e-loc2"><rect class="loc2" x="773" y="596" width="68" height="30" rx="5"/><text class="t" x="807" y="610.5"><tspan class="b">Loc.</tspan><tspan class="b" font-size="8" dy="-4.5">2</tspan><tspan dy="4.5"> / </tspan><tspan class="s">Q-&gt;E</tspan></text><text class="n" x="807" y="623">17.19 18.9</text></g>
<g id="e-re"><rect class="mlp" x="889" y="560" width="34" height="30" rx="4"/><text x="906" y="572" font-size="10.5" text-anchor="middle">R-&gt;E</text><text class="n" x="906" y="584.5">24.27</text></g>
<g id="e-ppred"><rect class="pred" x="851" y="592" width="74" height="39" rx="5"/><text class="t" x="888" y="604"><tspan class="b">PPred.</tspan><tspan class="s">/V'-&gt;E</tspan></text><text class="n" x="888" y="615.5">23.3 20.25</text><text class="n" x="888" y="627">20.45 26.8</text></g>
<g id="e-pred"><rect class="pred" x="937" y="592" width="78" height="39" rx="5"/><text class="t" x="976" y="604"><tspan class="b">Pred.</tspan> / <tspan class="s">V'-&gt;E</tspan></text><text class="n" x="976" y="615.5">46.36 36.47</text><text class="n" x="976" y="627">30.19</text></g>
<text x="1037" y="614.5" font-size="10.5">shirt</text>

<!-- CAPTIONS -->
<g id="captions" class="cap">
<text x="5" y="348" class="cap">(a) <tspan font-weight="bold">Classification:</tspan> GendersOfPersons/=,KindsOfThings/<tspan style="fill:#555">∈[g2c]</tspan></text>
<text x="387" y="348" class="cap">(b) sub-circuit of affirmative rel.<tspan font-size="8" dy="-4.5">2</tspan><tspan dy="4.5"> head (True head)</tspan></text>
<text x="740" y="348" class="cap">(c) sub-circuit of negative rel.<tspan font-size="8" dy="-4.5">2</tspan><tspan dy="4.5"> head (False head)</tspan></text>
<text x="67" y="661" class="cap">(d) <tspan font-weight="bold">Affirmative Generation:</tspan> GendersOfPersons/=,KindsOfThings/<tspan style="fill:#555">∈</tspan></text>
<text x="600" y="661" class="cap">(e) <tspan font-weight="bold">Negative Generation:</tspan> GendersOfPersons/=,KindsOfThings/=<tspan style="fill:#555">[negate]</tspan></text>
</g>
</svg>
